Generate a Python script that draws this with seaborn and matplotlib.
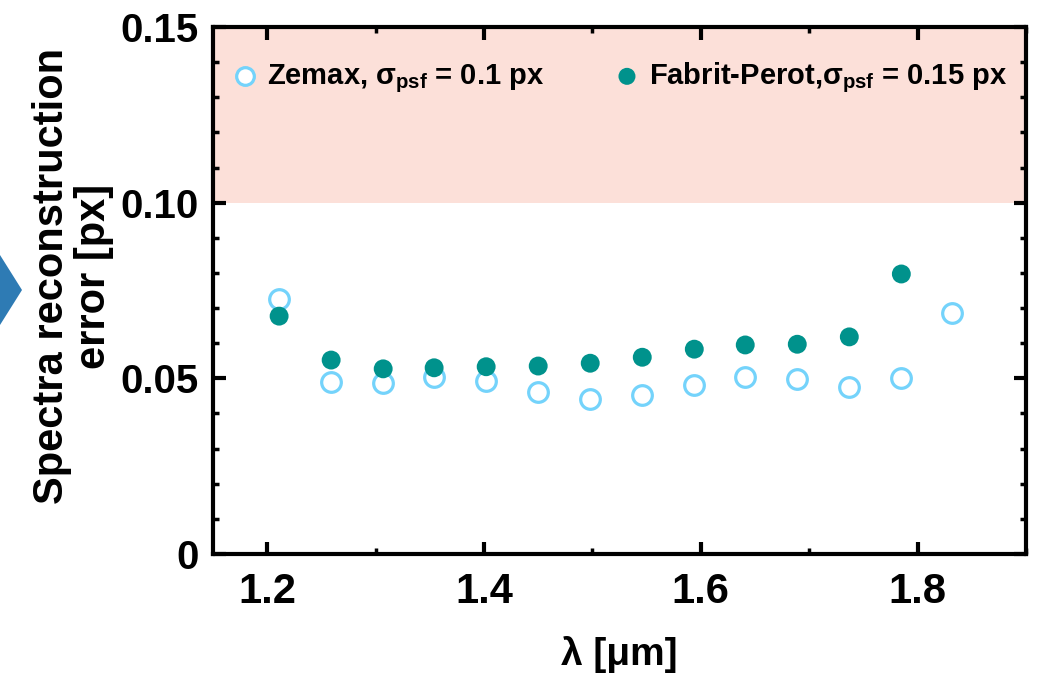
import matplotlib
matplotlib.use("Agg")
import matplotlib.pyplot as plt
from matplotlib.patches import Polygon
from matplotlib.ticker import MultipleLocator, FixedLocator
import seaborn as sns
import pandas as pd

# ---- data ----
wavelength_zemax = [1.211, 1.259, 1.307, 1.354, 1.402, 1.450, 1.498,
                    1.546, 1.594, 1.641, 1.689, 1.737, 1.785, 1.832]
error_zemax = [0.0725, 0.0490, 0.0486, 0.0505, 0.0492, 0.0460, 0.0441,
               0.0453, 0.0481, 0.0503, 0.0498, 0.0476, 0.0502, 0.0685]
wavelength_fp = [1.211, 1.259, 1.307, 1.354, 1.402, 1.450, 1.498,
                 1.546, 1.594, 1.641, 1.689, 1.737, 1.785]
error_fp = [0.0677, 0.0552, 0.0527, 0.0530, 0.0533, 0.0535, 0.0543,
            0.0560, 0.0583, 0.0595, 0.0597, 0.0618, 0.0797]
label_zemax = r"Zemax, $\sigma_{\rm psf}$ = 0.1 px"
label_fp = r"Fabrit-Perot,$\sigma_{\rm psf}$ = 0.15 px"
x_ticks = [1.2, 1.4, 1.6, 1.8]
x_ticklabels = ["1.2", "1.4", "1.6", "1.8"]
y_ticks = [0, 0.05, 0.10, 0.15]
y_ticklabels = ["0", "0.05", "0.10", "0.15"]
threshold = [0.10, 0.15]

sns.set_theme(style="ticks")
FONT = ["Liberation Sans", "DejaVu Sans"]
plt.rcParams["font.family"] = FONT
plt.rcParams["font.weight"] = "bold"
plt.rcParams["text.color"] = "black"
plt.rcParams["axes.labelcolor"] = "black"
plt.rcParams["xtick.color"] = "black"
plt.rcParams["ytick.color"] = "black"
plt.rcParams["mathtext.fontset"] = "custom"
plt.rcParams["mathtext.rm"] = "Liberation Sans:bold"
plt.rcParams["mathtext.it"] = "Liberation Sans:bold"
plt.rcParams["mathtext.bf"] = "Liberation Sans:bold"
plt.rcParams["mathtext.sf"] = "Liberation Sans:bold"

fig = plt.figure(figsize=(10.4, 6.77), dpi=100)
W, H = 1040, 677
ax = fig.add_axes([213 / W, (H - 554) / H, (1026 - 213) / W, (554 - 27) / H])

ax.axhspan(threshold[0], threshold[1], color="#FCE0D9", zorder=0, lw=0)

df_z = pd.DataFrame({"x": wavelength_zemax, "y": error_zemax})
df_f = pd.DataFrame({"x": wavelength_fp, "y": error_fp})

sns.scatterplot(data=df_z, x="x", y="y", ax=ax, s=200, marker="o",
                facecolor="white", edgecolor="#74D3FB", linewidth=2.3,
                label=label_zemax, zorder=3)
sns.scatterplot(data=df_f, x="x", y="y", ax=ax, s=185, marker="o",
                color="#00928C", edgecolor="none", linewidth=0,
                label=label_fp, zorder=4)

ax.set_xlim(1.15, 1.9)
ax.set_ylim(0, 0.15)
ax.xaxis.set_major_locator(FixedLocator(x_ticks))
ax.set_xticklabels(x_ticklabels)
ax.xaxis.set_minor_locator(MultipleLocator(0.1))
ax.yaxis.set_major_locator(FixedLocator(y_ticks))
ax.set_yticklabels(y_ticklabels)
ax.yaxis.set_minor_locator(MultipleLocator(0.01))

for sp in ax.spines.values():
    sp.set_linewidth(3.0)
    sp.set_color("black")
    sp.set_visible(True)

ax.tick_params(which="major", direction="in", length=9, width=3,
               top=True, right=True, colors="black")
ax.tick_params(which="minor", direction="in", length=4.5, width=2.5,
               top=True, right=True, colors="black")
ax.tick_params(axis="x", which="major", pad=13)
ax.tick_params(axis="y", which="major", pad=10)
for lab in ax.get_xticklabels():
    lab.set_fontsize(30)
    lab.set_fontweight("bold")
for lab in ax.get_yticklabels():
    lab.set_fontsize(29)
    lab.set_fontweight("bold")

ax.set_xlabel("λ [μm]", fontsize=28, fontweight="bold", labelpad=17,
              color="black")
ax.set_ylabel("")
fig.text(73 / W, 1 - 276 / H, "Spectra reconstruction\nerror [px]",
         rotation=90, ha="center", va="center", multialignment="center",
         fontsize=30, fontweight="bold", linespacing=1.05, color="black")

leg = ax.legend(loc="upper left", bbox_to_anchor=(0.021, 0.937), ncol=2,
                frameon=False, fontsize=21, handlelength=1.0,
                handletextpad=0.25, columnspacing=2.35, borderaxespad=0.0,
                borderpad=0.0, markerscale=0.9)
for t in leg.get_texts():
    t.set_color("black")

# decorative arrow tip at left edge (remnant of a larger figure)
fig.patches.append(Polygon([[0, 1 - 255 / H], [22 / W, 1 - 290 / H], [0, 1 - 325 / H]],
                           closed=True, transform=fig.transFigure,
                           facecolor="#2E7BB4", edgecolor="none"))

fig.savefig("out.png", dpi=100)
